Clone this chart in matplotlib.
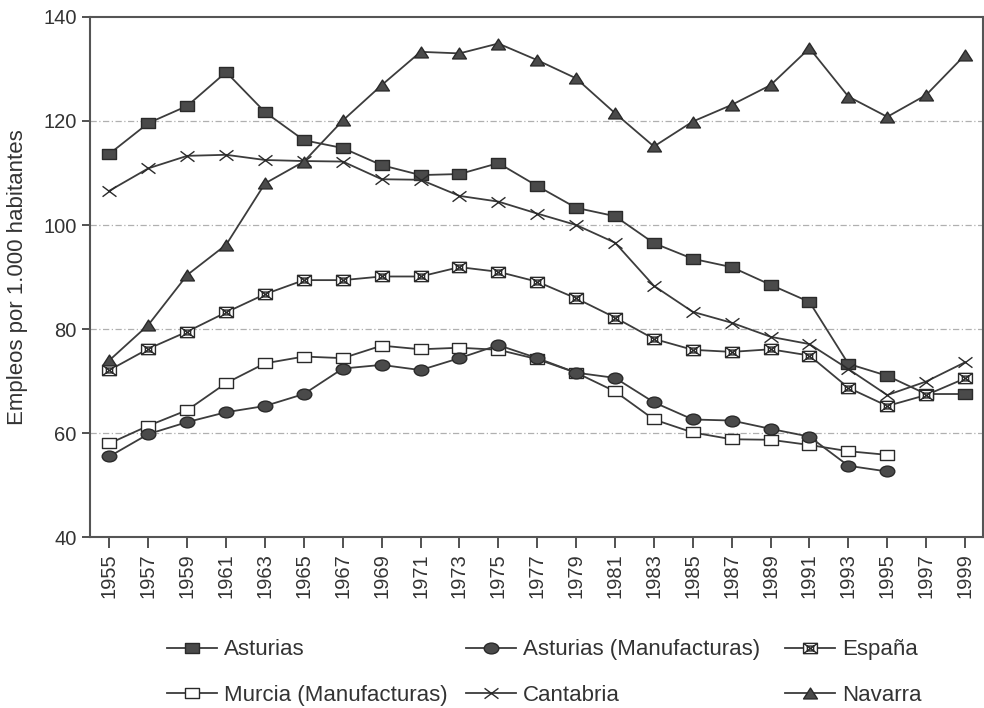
import matplotlib
matplotlib.use("Agg")
import matplotlib.pyplot as plt
from matplotlib.path import Path

years = list(range(1955, 2000, 2))

asturias = [113.7, 119.6, 122.9, 129.4, 121.7, 116.3, 114.8, 111.5, 109.6, 109.8,
            111.9, 107.5, 103.3, 101.7, 96.5, 93.5, 91.9, 88.5, 85.2, 73.3,
            71.0, 67.5, 67.5]
asturias_manuf = [55.5, 59.8, 62.1, 64.0, 65.2, 67.5, 72.4, 73.1, 72.1, 74.4,
                  76.9, 74.4, 71.6, 70.6, 65.9, 62.6, 62.4, 60.8, 59.3, 53.7,
                  52.6]
espana = [72.1, 76.2, 79.5, 83.2, 86.7, 89.4, 89.4, 90.1, 90.1, 91.9,
          91.0, 89.1, 85.9, 82.2, 78.1, 76.0, 75.6, 76.1, 74.9, 68.7,
          65.2, 67.3, 70.5]
murcia_manuf = [58.0, 61.4, 64.4, 69.6, 73.4, 74.7, 74.4, 76.8, 76.1, 76.4,
                76.0, 74.2, 71.6, 68.0, 62.6, 60.1, 58.8, 58.7, 57.7, 56.5,
                55.8]
cantabria = [106.6, 110.9, 113.3, 113.5, 112.5, 112.3, 112.2, 108.8, 108.7, 105.6,
             104.5, 102.2, 100.0, 96.6, 88.3, 83.3, 81.2, 78.5, 77.1, 72.3,
             67.3, 69.9, 73.6]
navarra = [74.0, 80.8, 90.4, 96.2, 108.0, 112.2, 120.1, 126.9, 133.3, 133.0,
           134.9, 131.7, 128.2, 121.5, 115.1, 119.9, 123.1, 126.9, 134.0, 124.7,
           120.8, 125.0, 132.7]

# slightly flattened marker shapes, as in the scanned original
sq = Path([(-1, -0.74), (1, -0.74), (1, 0.74), (-1, 0.74), (-1, -0.74)],
          [Path.MOVETO, Path.LINETO, Path.LINETO, Path.LINETO, Path.CLOSEPOLY])
circ = Path.unit_circle()
circ = Path(circ.vertices * [1, 0.74], circ.codes)
tri = Path([(0, 0.78), (-1, -0.78), (1, -0.78), (0, 0.78)],
           [Path.MOVETO, Path.LINETO, Path.LINETO, Path.CLOSEPOLY])
cross = Path([(-1, -0.75), (1, 0.75), (-1, 0.75), (1, -0.75)],
             [Path.MOVETO, Path.LINETO, Path.MOVETO, Path.LINETO])
boxx = Path([(-1, -0.74), (1, -0.74), (1, 0.74), (-1, 0.74), (-1, -0.74),
             (-1, -0.74), (1, 0.74), (-1, 0.74), (1, -0.74),
             (-0.45, -0.35), (0.45, -0.35), (0.45, 0.35), (-0.45, 0.35), (-0.45, -0.35)],
            [Path.MOVETO, Path.LINETO, Path.LINETO, Path.LINETO, Path.CLOSEPOLY,
             Path.MOVETO, Path.LINETO, Path.MOVETO, Path.LINETO,
             Path.MOVETO, Path.LINETO, Path.LINETO, Path.LINETO, Path.CLOSEPOLY])

plt.rcParams['font.family'] = ['Liberation Sans', 'DejaVu Sans']
line_c = "#3c3c3c"
mark_c = "#4a4a4a"

fig = plt.figure(figsize=(9.84, 7.08), dpi=100)
ax = fig.add_axes([0.0915, 0.2415, 0.907, 0.7345])

n1 = len(asturias_manuf)
series = [
    ("Asturias", years, asturias, sq, mark_c, 10),
    ("Murcia (Manufacturas)", years[:n1], murcia_manuf, sq, "white", 10),
    ("Asturias (Manufacturas)", years[:n1], asturias_manuf, circ, mark_c, 10.5),
    ("Cantabria", years, cantabria, cross, "none", 10),
    ("España", years, espana, boxx, "white", 10),
    ("Navarra", years, navarra, tri, mark_c, 10),
]
handles = {}
for name, xs, ys, m, fc, ms in series:
    h, = ax.plot(xs, ys, color=line_c, lw=1.3, marker=m, ms=ms,
                 markerfacecolor=fc, markeredgecolor="#2a2a2a", markeredgewidth=1.0,
                 label=name, zorder=3)
    handles[name] = h

ax.set_xlim(1954.0, 1999.9)
ax.set_ylim(40, 140)
ax.set_xticks(years)
ax.set_xticklabels([str(y) for y in years], rotation=90, fontsize=14.5, color="#333333")
ax.set_yticks([40, 60, 80, 100, 120, 140])
ax.tick_params(axis="y", labelsize=14.5, colors="#333333", length=6, width=1.2)
ax.tick_params(axis="x", length=8, width=1.2, colors="#333333")
for y in [60, 80, 100, 120]:
    ax.axhline(y, color="#b0b0b0", lw=0.9, ls=(0, (5, 2, 1, 2)), zorder=1)
for s in ax.spines.values():
    s.set_color("#555555")
    s.set_linewidth(1.5)
ax.set_ylabel("Empleos por 1.000 habitantes", fontsize=16, color="#333333", labelpad=11)

leg_kw = dict(frameon=False, loc="upper left", handlelength=2.25, handletextpad=0.3,
              labelspacing=1.1, borderaxespad=0, borderpad=0,
              prop={"size": 16})
cols = [
    (["Asturias", "Murcia (Manufacturas)"], 0.1697),
    (["Asturias (Manufacturas)", "Cantabria"], 0.4736),
    (["España", "Navarra"], 0.7978),
]
for names, x0 in cols:
    lg = fig.legend([handles[n] for n in names], names,
                    bbox_to_anchor=(x0, 0.097), **leg_kw)
    for t in lg.get_texts():
        t.set_color("#333333")

fig.savefig("out.png", dpi=100)
